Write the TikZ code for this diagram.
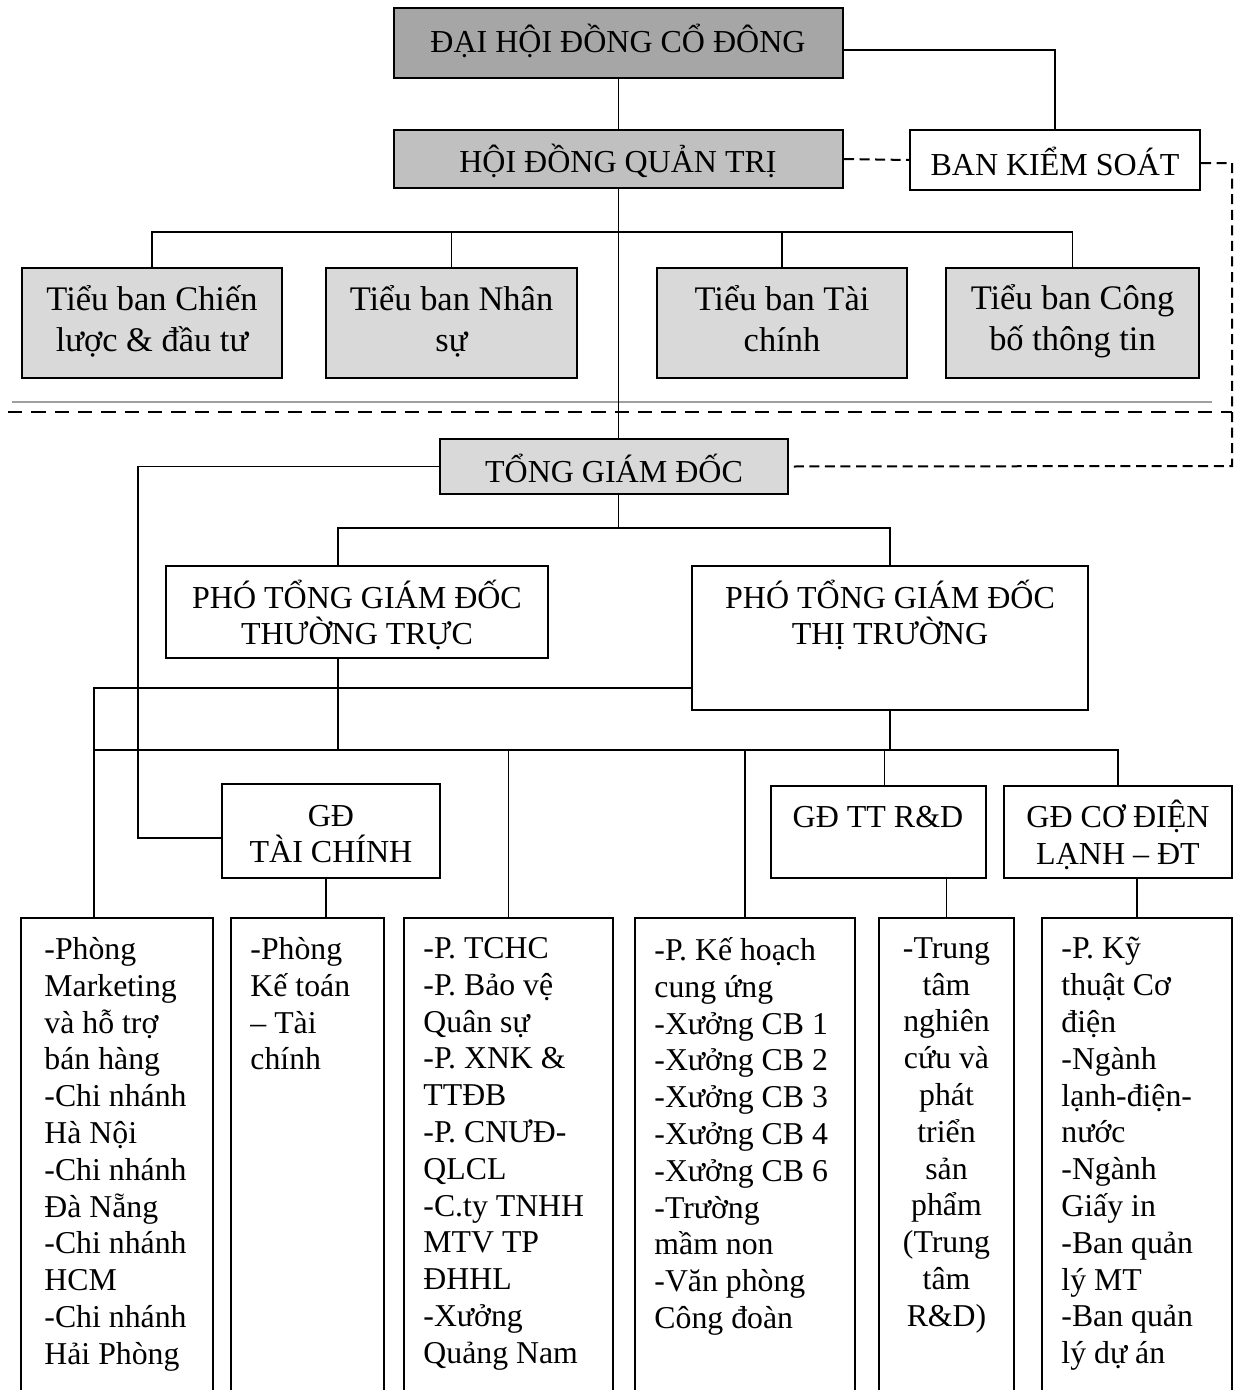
\documentclass[tikz,border=0pt]{standalone}
\usepackage{fontspec}
\setmainfont{Liberation Serif}
\usetikzlibrary{fit,calc}
\definecolor{gA}{HTML}{A6A6A6}
\definecolor{gB}{HTML}{C0C0C0}
\definecolor{gC}{HTML}{D9D9D9}
\definecolor{sepgray}{HTML}{A0A0A0}
\begin{document}
\begin{tikzpicture}[x=0.45pt,y=-0.45pt,
  box/.style={draw, line width=0.9pt, inner sep=0pt},
  cbox/.style={box, fill=gC},
  ttext/.style={inner sep=0pt, align=center, font=\fontsize{14.4}{16.56}\selectfont},
  ctext/.style={inner sep=0pt, align=center, font=\fontsize{15.5}{18.45}\selectfont},
  btext/.style={inner sep=0pt, align=left, font=\fontsize{14.3}{16.56}\selectfont},
  conn/.style={line width=0.7pt},
  dconn/.style={line width=0.9pt, dash pattern=on 4.5pt off 2.5pt},
  sepdash/.style={line width=1.3pt, dash pattern=on 6.5pt off 4pt},
  sepline/.style={line width=1.3pt, draw=sepgray}]
\useasboundingbox (0,0) rectangle (1237,1390);

% top level
\node[box, fill=gA, fit={(394,8)(843,78)}] (dhd) {};
\node[ttext] (dhdT) at (618,41) {ĐẠI HỘI ĐỒNG CỔ ĐÔNG};
\node[box, fill=gB, fit={(394,130)(843,188)}] (hdqt) {};
\node[ttext] (hdqtT) at (618,161) {HỘI ĐỒNG QUẢN TRỊ};
\node[box, fit={(910,130)(1200,190)}] (bks) {};
\node[ttext] (bksT) at (1055,161) {BAN KIỂM SOÁT};

% committees
\node[cbox, fit={(22,268)(282,378)}] (c1) {};
\node[cbox, fit={(326,268)(577,378)}] (c2) {};
\node[cbox, fit={(657,268)(907,378)}] (c3) {};
\node[cbox, fit={(946,268)(1199,378)}] (c4) {};
\node[ctext] (c1T) at ($(c1.center)+(0,-2)$) {Tiểu ban Chiến\\lược \& đầu tư};
\node[ctext] (c2T) at ($(c2.center)+(0,-2)$) {Tiểu ban Nhân\\sự};
\node[ctext] (c3T) at ($(c3.center)+(0,-4)$) {Tiểu ban Tài\\chính};
\node[ctext] (c4T) at ($(c4.center)+(0,-2)$) {Tiểu ban Công\\bố thông tin};

% separators
\coordinate (s1) at (12,402); \coordinate (s2) at (1212,402);
\coordinate (d1) at (8,412); \coordinate (d2) at (1232,412);
\draw[sepline] (s1) -- (s2);
\draw[sepdash] (d1) -- (d2);

% general director
\node[box, fill=gC, fit={(440,439)(788,494)}] (tgd) {};
\node[ttext] (tgdT) at (614,468) {TỔNG GIÁM ĐỐC};
\node[box, fit={(166,566)(548,658)}] (p1) {};
\node[ttext] (p1T) at (357,615) {PHÓ TỔNG GIÁM ĐỐC\\THƯỜNG TRỰC};
\node[box, fit={(692,566)(1088,710)}] (p2) {};
\node[ttext] (p2T) at (890,615) {PHÓ TỔNG GIÁM ĐỐC\\THỊ TRƯỜNG};

% directors
\node[box, fit={(222,784)(440,878)}] (gdtc) {};
\node[ttext] (gdtcT) at (331,834) {GĐ\\TÀI CHÍNH};
\node[box, fit={(771,786)(986,878)}] (gdrd) {};
\node[ttext] (gdrdT) at (878,817) {GĐ TT R\&D};
\node[box, fit={(1004,786)(1232,878)}] (gdcd) {};
\node[ttext] (gdcdT) at (1118,835) {GĐ CƠ ĐIỆN\\LẠNH -- ĐT};

% bottom boxes
\node[box, fit={(21,918)(213,1410)}] (b1) {};
\node[box, fit={(231,918)(384,1410)}] (b2) {};
\node[box, fit={(404,918)(613,1410)}] (b3) {};
\node[box, fit={(635,918)(855,1410)}] (b4) {};
\node[box, fit={(879,918)(1014,1410)}] (b5) {};
\node[box, fit={(1042,918)(1232,1410)}] (b6) {};

\node[btext, anchor=north west] (t1) at ($(b1.north west)+(24,20)$) {-Phòng\\Marketing\\và hỗ trợ\\bán hàng\\-Chi nhánh\\Hà Nội\\-Chi nhánh\\Đà Nẵng\\-Chi nhánh\\HCM\\-Chi nhánh\\Hải Phòng};
\node[btext, anchor=north west] (t2) at ($(b2.north west)+(20,20)$) {-Phòng\\Kế toán\\– Tài\\chính};
\node[btext, anchor=north west] (t3) at ($(b3.north west)+(20,20)$) {-P. TCHC\\-P. Bảo vệ\\Quân sự\\-P. XNK \&\\TTĐB\\-P. CNƯĐ-\\QLCL\\-C.ty TNHH\\MTV TP\\ĐHHL\\-Xưởng\\Quảng Nam};
\node[btext, anchor=north west] (t4) at ($(b4.north west)+(20,20)$) {-P. Kế hoạch\\cung ứng\\-Xưởng CB 1\\-Xưởng CB 2\\-Xưởng CB 3\\-Xưởng CB 4\\-Xưởng CB 6\\-Trường\\mầm non\\-Văn phòng\\Công đoàn};
\node[btext, align=center, anchor=north] (t5) at ($(b5.north)+(0,20)$) {-Trung\\tâm\\nghiên\\cứu và\\phát\\triển\\sản\\phẩm\\(Trung\\tâm\\R\&D)};
\node[btext, anchor=north west] (t6) at ($(b6.north west)+(20,20)$) {-P. Kỹ\\thuật Cơ\\điện\\-Ngành\\lạnh-điện-\\nước\\-Ngành\\Giấy in\\-Ban quản\\lý MT\\-Ban quản\\lý dự án};

% connectors, top
\draw[conn] (dhd.south) -- (hdqt.north);
\draw[conn] ($(dhd.east)+(0,7)$) -| (bks.north);
\draw[dconn] (hdqt.east) -- (bks.west);
\coordinate (rc1) at (1232,163);
\coordinate (rc2) at (1232,466);
\draw[dconn] ($(bks.east)+(0,3)$) -- (rc1) -- (rc2) -- (tgd.east);

% committees bar
\coordinate (cbar) at (0,232);
\draw[conn] (hdqt.south) -- (hdqt.south |- tgd.north);
\draw[conn] (c1.north) -- (c1.north |- cbar) -- (c4.north |- cbar) -- (c4.north);
\draw[conn] (c2.north) -- (c2.north |- cbar);
\draw[conn] (c3.north) -- (c3.north |- cbar);

% TGD to left and to deputies
\coordinate (lx) at (138,0);
\draw[conn] (tgd.west) -- (tgd.west -| lx) |- ($(gdtc.west)+(0,7)$);
\coordinate (pbar) at (0,528);
\coordinate (p1x) at (338,0);
\draw[conn] (hdqt.south |- tgd.south) -- (hdqt.south |- pbar);
\draw[conn] (p1x |- p1.north) -- (p1x |- pbar) -- (p2.north |- pbar) -- (p2.north);

% deputies to departments
\coordinate (mx) at (94,0);
\coordinate (l688) at (0,688);
\coordinate (bar) at (0,750);
\draw[conn] (p2.west |- l688) -- (mx |- l688) -- (mx |- b1.north);
\draw[conn] (p1x |- p1.south) -- (p1x |- bar);
\draw[conn] (p2.south) -- (p2.south |- bar);
\draw[conn] (mx |- bar) -- (gdcd.north |- bar) -- (gdcd.north);
\draw[conn] (b3.north |- bar) -- (b3.north);
\draw[conn] (b4.north |- bar) -- (b4.north);
\draw[conn] ($(gdrd.north |- bar)+(6,0)$) -- ($(gdrd.north)+(6,0)$);

% directors to boxes
\draw[conn] ($(gdtc.south)+(-5,0)$) -- ($(gdtc.south |- b2.north)+(-5,0)$);
\draw[conn] (b5.north |- gdrd.south) -- (b5.north);
\draw[conn] (b6.north |- gdcd.south) -- (b6.north);
\end{tikzpicture}
\end{document}
